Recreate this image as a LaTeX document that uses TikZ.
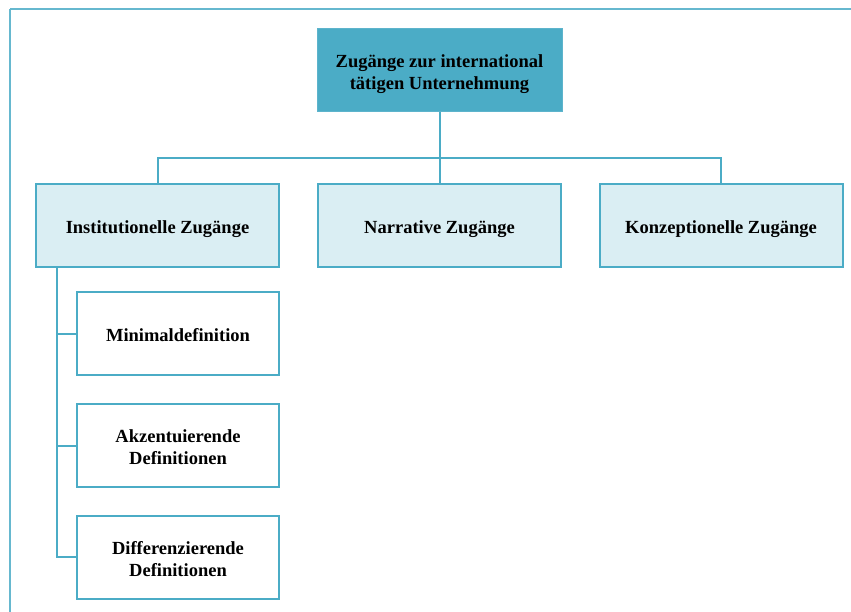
\documentclass[tikz,border=0pt]{standalone}
\usepackage{fontspec}
\setmainfont{Liberation Serif}
% lower the text inside its box while keeping the box's reported size
\newcommand{\boxtext}[1]{\raisebox{-4pt}[\height][\depth]{\begin{tabular}{@{}c@{}}#1\end{tabular}}}
\begin{document}
\definecolor{teal}{HTML}{4BACC6}
\definecolor{paleteal}{HTML}{DAEEF3}
\begin{tikzpicture}[x=1pt,y=-1pt,
  link/.style={draw=teal,line width=2pt},
  box/.style={draw=teal,line width=2pt,minimum height=83pt,align=center,
    font=\fontsize{18.5}{22}\selectfont\bfseries,inner sep=0pt},
  rootbox/.style={box,fill=teal,draw=teal!90!white,line width=1pt,minimum width=245pt},
  groupbox/.style={box,fill=paleteal,minimum width=243pt},
  leafbox/.style={box,fill=white,minimum width=202pt}]
\useasboundingbox (0,0) rectangle (851,611);
\clip (0,0) rectangle (851,611);
% outer frame
\draw[teal!85!white,line width=2pt] (10,8.5) -- (870,8.5) (10,8.5) -- (10,630);
% nodes
\node[rootbox] (root) at (439.5,70) {\boxtext{Zugänge zur international\\tätigen Unternehmung}};
\node[groupbox] (inst) at (157.5,225.5) {\boxtext{Institutionelle Zugänge}};
\node[groupbox] (narr) at (439.5,225.5) {\boxtext{Narrative Zugänge}};
\node[groupbox] (konz) at (721,225.5) {\boxtext{Konzeptionelle Zugänge}};
\node[leafbox] (mini) at (178,333.5) {\boxtext{Minimaldefinition}};
\node[leafbox] (akz) at (178,445.5) {\boxtext{Akzentuierende\\Definitionen}};
\node[leafbox] (diff) at (178,557) {\boxtext{Differenzierende\\Definitionen}};
% connectors
\coordinate (bus) at (439.5,158);
\draw[link] (root.south) -- (bus);
\draw[link] (inst.north) |- (bus) -| (konz.north);
\draw[link] (bus) -- (narr.north);
\coordinate (spine) at (57,0);
\draw[link] (inst.south -| spine) |- (diff.west);
\draw[link] (mini.west -| spine) -- (mini.west);
\draw[link] (akz.west -| spine) -- (akz.west);
\end{tikzpicture}
\end{document}
